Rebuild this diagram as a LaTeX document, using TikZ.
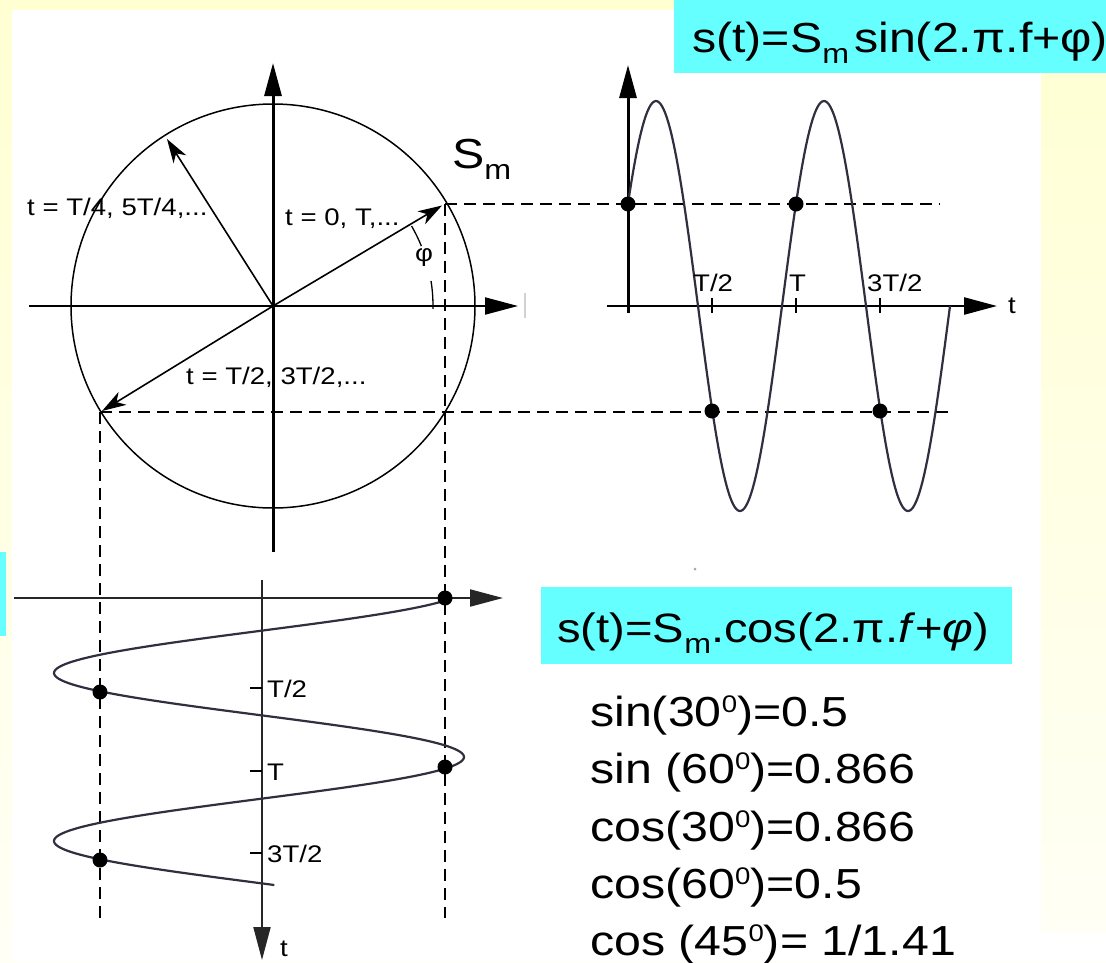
\documentclass[tikz,border=0pt]{standalone}
\usepackage{fontspec}
\setmainfont{Liberation Sans}[FakeStretch=1.15]
\usetikzlibrary{arrows.meta}
\definecolor{bgyel}{HTML}{FFFFD2}
\definecolor{bgpale}{HTML}{FFFFF6}
\definecolor{cyanbox}{HTML}{66FFFF}
\definecolor{curvecol}{HTML}{2F2F40}
\newcommand{\subm}{\raisebox{-11pt}{\fontsize{28}{28}\selectfont m}}
\newcommand{\supz}{\raisebox{14pt}{\fontsize{24}{24}\selectfont 0}}
\begin{document}
\begin{tikzpicture}[x=1pt,y=-1pt,
  axisline/.style={line width=2.5pt,-{Triangle[length=33pt,width=17pt]}},
  vecline/.style={line width=1.6pt,-{Stealth[length=24pt,width=15pt,inset=7pt]}},
  guide/.style={line width=1.6pt,dash pattern=on 12pt off 7pt},
  wave/.style={line width=2.2pt,draw=curvecol,line join=round},
  tickline/.style={line width=1.6pt},
  dotmark/.style={circle,fill=black,inner sep=0pt,minimum size=15pt},
  small/.style={font=\fontsize{24}{26}\selectfont,inner sep=0pt},
  big/.style={font=\fontsize{42}{57}\selectfont,inner sep=0pt},
  eqn/.style={font=\fontsize{41}{50}\selectfont,inner sep=0pt},
]
\useasboundingbox (0,0) rectangle (1106,962);
% background
\shade[top color=bgyel,bottom color=bgpale] (0,0) rectangle (1106,962);
\fill[white] (12,10) rectangle (1041,962);
\fill[white] (1041,933) rectangle (1106,962);
\fill[cyanbox] (674,0) rectangle (1106,73);
\fill[cyanbox] (541,587) rectangle (1012,664);
\fill[cyanbox] (0,552) rectangle (6,636);

% ---------- circle diagram ----------
\coordinate (C) at (273,306);
\coordinate (HL) at (29,306);
\coordinate (HR) at (518,306);
\coordinate (VB) at (273,552);
\coordinate (VT) at (273,63);
\coordinate (P1) at (445,204);
\coordinate (P2) at (100,412);
\coordinate (A1) at (442,205.5);
\coordinate (A2) at (102,411);
\coordinate (A3) at (167,139);

% guides
\coordinate (SD1) at (940,204);
\coordinate (SD2) at (952,412);
\coordinate (LD1) at (445,918);
\coordinate (LD2) at (100,918);
\draw[guide] (P1) -- (SD1);
\draw[guide] (P2) -- (SD2);
\draw[guide] (P1) -- (LD1);
\draw[guide] (P2) -- (LD2);

\draw[line width=1.5pt] (C) circle[radius=202];
\draw[axisline,line width=2pt] (HL) -- (HR);
\draw[axisline,line width=3pt] (VB) -- (VT);
\draw[gray!35,line width=1.5pt] (525,293) -- (525,318);

\draw[vecline] (C) -- (A1);
\draw[vecline] (C) -- (A2);
\draw[vecline] (C) -- (A3);

\draw[line width=1.3pt] (C) ++(-30:160) arc[start angle=-30,end angle=-22,radius=160];
\draw[line width=1.3pt] (C) ++(-9:160) arc[start angle=-9,end angle=1,radius=160];

\node[small,anchor=base west] (lq) at (27,215) {t = T/4, 5T/4,...};
\node[small,anchor=base west] (l0) at (285,225) {t = 0, T,...};
\node[small,anchor=base west] (lh) at (186,384) {t = T/2, 3T/2,...};
\node[small] (phi) at (424,258) {φ};
\node[big,anchor=base west] (smlab) at (452,168) {S\subm};

% ---------- sine plot ----------
\coordinate (SXL) at (607,306);
\coordinate (SXR) at (997,306);
\coordinate (SYB) at (628,313);
\coordinate (SYT) at (628,65);
\draw[axisline] (SXL) -- (SXR);
\draw[axisline,line width=3pt] (SYB) -- (SYT);
\foreach \xx in {712,796,880}{\draw[tickline] (\xx,298) -- (\xx,313);}
\draw[wave] plot[domain=628:950,samples=200,variable=\u] ({\u},{306-205*sin((\u-628)/168*360+30)});
\node[dotmark] (d1) at (628,204) {};
\node[dotmark] (d2) at (796,204) {};
\node[dotmark] (d3) at (712,411) {};
\node[dotmark] (d4) at (880,411) {};
\node[small,anchor=base west] (st1) at (693,291) {T/2};
\node[small,anchor=base west] (st2) at (789,291) {T};
\node[small,anchor=base west] (st3) at (867,291) {3T/2};
\node[small,anchor=base west] (stt) at (1008,313) {t};

% ---------- cosine plot ----------
\coordinate (LXL) at (14,598);
\coordinate (LXR) at (503,598);
\coordinate (LYT) at (262,580);
\coordinate (LYB) at (262,960);
\draw[axisline,line width=2pt,draw=black!85] (LXL) -- (LXR);
\draw[axisline,line width=2pt,draw=black!85] (LYT) -- (LYB);
\foreach \yy in {688,771,853}{\draw[tickline] (250,\yy) -- (262,\yy);}
\draw[wave] plot[domain=600:885,samples=200,variable=\u] ({259+205*cos((\u-589)/168*360)},{\u});
\node[dotmark] (e1) at (445,598) {};
\node[dotmark] (e2) at (100,692) {};
\node[dotmark] (e3) at (445,767) {};
\node[dotmark] (e4) at (100,860) {};
\node[small,anchor=base west] (lt1) at (267,697) {T/2};
\node[small,anchor=base west] (lt2) at (267,780) {T};
\node[small,anchor=base west] (lt3) at (267,862) {3T/2};
\node[small,anchor=base west] (ltt) at (280,956) {t};

\fill[gray!70] (695,569) circle[radius=1.5];

% ---------- formulas ----------
\node[big,anchor=base west] (eqsin) at (692,52) {s(t)=S\subm\hspace{5pt}sin(2.π.f+φ)};
\node[eqn,anchor=base west] (eqcos) at (557,642) {s(t)=S\subm.cos(2.π.\textit{f}+\textit{φ})};
\node[big,anchor=base west] (tr1) at (590,726) {sin(30\supz)=0.5};
\node[big,anchor=base west] (tr2) at (590,783) {sin (60\supz)=0.866};
\node[big,anchor=base west] (tr3) at (590,841) {cos(30\supz)=0.866};
\node[big,anchor=base west] (tr4) at (590,898) {cos(60\supz)=0.5};
\node[big,anchor=base west] (tr5) at (590,955) {cos (45\supz)= 1/1.41};
\end{tikzpicture}
\end{document}
